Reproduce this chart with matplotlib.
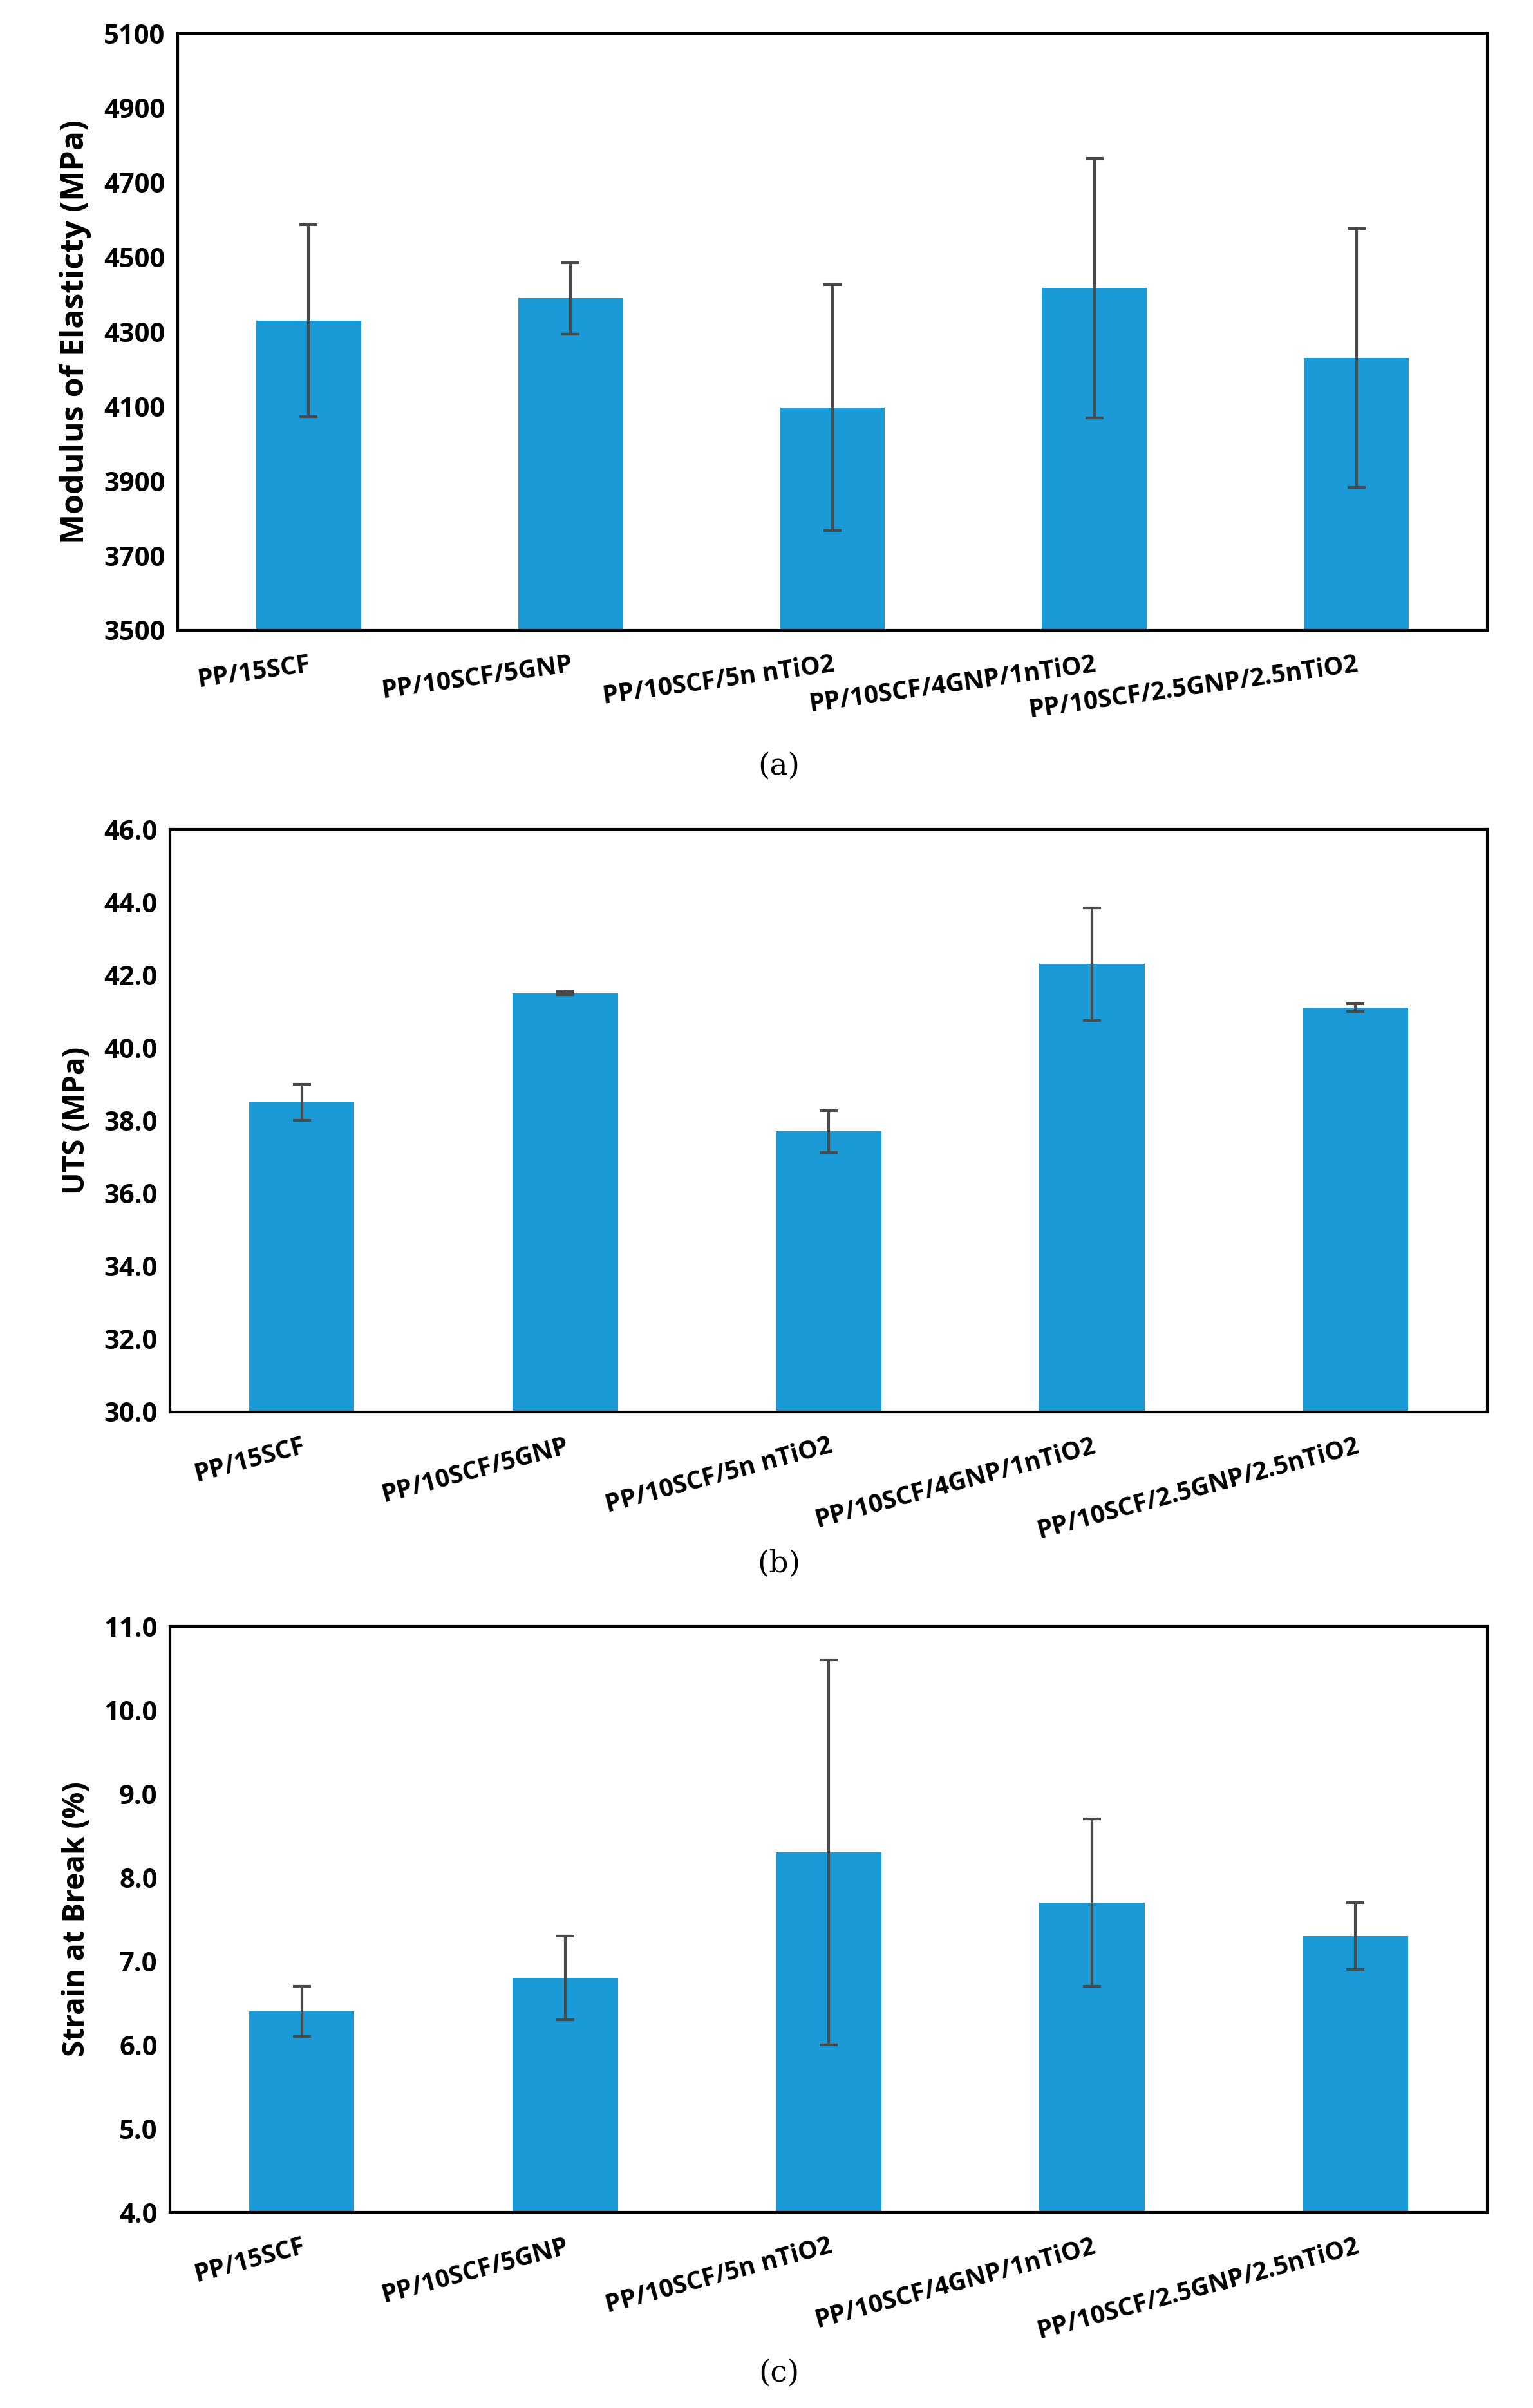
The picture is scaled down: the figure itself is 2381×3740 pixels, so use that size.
import matplotlib
matplotlib.use("Agg")
import matplotlib.pyplot as plt
import numpy as np

# Datos
muestras = ["PP/15SCF", "PP/10SCF/5GNP", "PP/10SCF/5n nTiO2",
            "PP/10SCF/4GNP/1nTiO2", "PP/10SCF/2.5GNP/2.5nTiO2"]

modulo = [4330, 4390, 4097, 4418, 4230]
modulo_err = [257, 96, 329, 348, 347]

uts = [38.5, 41.5, 37.7, 42.3, 41.1]
uts_err = [0.5, 0.05, 0.57, 1.55, 0.1]

deformacion = [6.4, 6.8, 8.3, 7.7, 7.3]
deformacion_err = [0.3, 0.5, 2.3, 1.0, 0.4]

color_barra = "#1a9ad6"
color_error = "#4a4a4a"

plt.rcParams['font.family'] = ['Open Sans', 'DejaVu Sans']

fig = plt.figure(figsize=(23.81, 37.40), dpi=100)
W, H = 2381, 3740

paneles = [
    # (valores, errores, ylim, ticks, formato, ylabel, caption, caja px, rotacion, y caption, tam ylabel)
    (modulo, modulo_err, (3500, 5100), np.arange(3500, 5101, 200), "{:.0f}",
     "Modulus of Elasticty (MPa)", "(a)", (276, 52, 2310, 979), 8, 1190, 36),
    (uts, uts_err, (30, 46), np.arange(30, 46.1, 2), "{:.1f}",
     "UTS (MPa)", "(b)", (264, 1288, 2310, 2193), 15, 2429, 33),
    (deformacion, deformacion_err, (4, 11), np.arange(4, 11.1, 1), "{:.1f}",
     "Strain at Break (%)", "(c)", (264, 2526, 2310, 3436), 15, 3686, 33),
]

x = np.arange(len(muestras))

for vals, errs, lim, ticks, fmt, ylabel, cap, caja, rot, ycap, tam in paneles:
    x0, y0, x1, y1 = caja
    ax = fig.add_axes([x0 / W, 1 - y1 / H, (x1 - x0) / W, (y1 - y0) / H])
    ax.bar(x, vals, width=0.4, color=color_barra, zorder=2)
    ax.errorbar(x, vals, yerr=errs, fmt='none', ecolor=color_error,
                elinewidth=3, capsize=10, capthick=3, zorder=3)
    ax.set_xlim(-0.5, len(muestras) - 0.5)
    ax.set_ylim(*lim)
    ax.set_yticks(ticks)
    ax.set_yticklabels([fmt.format(t) for t in ticks], fontsize=30, fontweight='bold')
    ax.set_xticks(x)
    ax.set_xticklabels(muestras, fontsize=28, fontweight='bold',
                       rotation=rot, ha='right', rotation_mode='anchor')
    ax.tick_params(axis='both', length=0, pad=14)
    ax.tick_params(axis='x', pad=24)
    ax.set_ylabel(ylabel, fontsize=tam, fontweight='bold', labelpad=14)
    for s in ax.spines.values():
        s.set_linewidth(3)
        s.set_color('black')
    fig.text(1210 / W, 1 - ycap / H, cap, fontsize=34,
             family='DejaVu Serif', ha='center', va='center')

fig.savefig("out.png", dpi=100)
